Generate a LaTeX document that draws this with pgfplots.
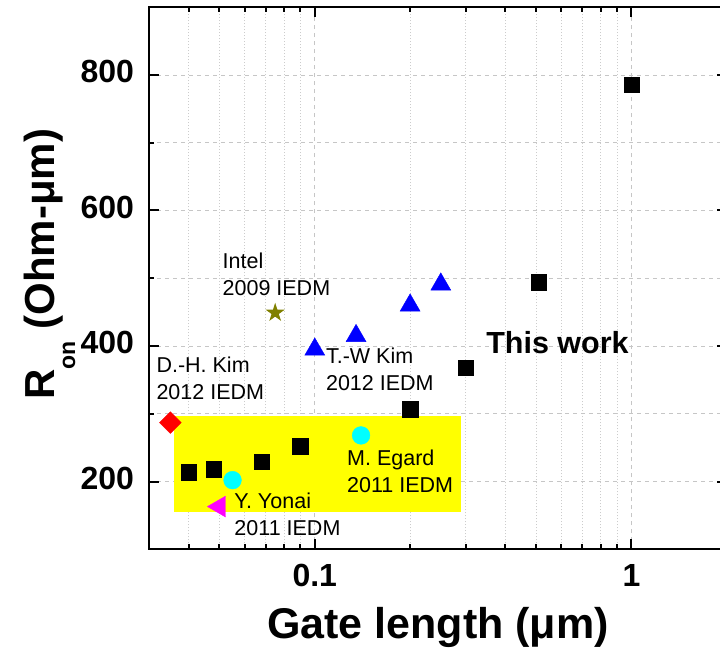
\documentclass[border=0pt]{standalone}
\usepackage{fontspec}
\setmainfont{Liberation Sans}
\usepackage{pgfplots}
\pgfplotsset{compat=1.18}

\definecolor{olivestar}{RGB}{128,128,0}
\definecolor{cyanpt}{RGB}{0,255,255}
\definecolor{magentapt}{RGB}{255,0,255}
\definecolor{yellowbox}{RGB}{255,255,0}
\definecolor{bluept}{RGB}{0,0,255}
\definecolor{redpt}{RGB}{255,0,0}

% filled five-pointed star
\pgfdeclareplotmark{fstar}{%
  \pgfpathmoveto{\pgfqpoint{0pt}{\pgfplotmarksize}}%
  \pgfpathlineto{\pgfqpoint{-0.2245\pgfplotmarksize}{0.3090\pgfplotmarksize}}%
  \pgfpathlineto{\pgfqpoint{-0.9511\pgfplotmarksize}{0.3090\pgfplotmarksize}}%
  \pgfpathlineto{\pgfqpoint{-0.3633\pgfplotmarksize}{-0.1180\pgfplotmarksize}}%
  \pgfpathlineto{\pgfqpoint{-0.5878\pgfplotmarksize}{-0.8090\pgfplotmarksize}}%
  \pgfpathlineto{\pgfqpoint{0pt}{-0.3820\pgfplotmarksize}}%
  \pgfpathlineto{\pgfqpoint{0.5878\pgfplotmarksize}{-0.8090\pgfplotmarksize}}%
  \pgfpathlineto{\pgfqpoint{0.3633\pgfplotmarksize}{-0.1180\pgfplotmarksize}}%
  \pgfpathlineto{\pgfqpoint{0.9511\pgfplotmarksize}{0.3090\pgfplotmarksize}}%
  \pgfpathlineto{\pgfqpoint{0.2245\pgfplotmarksize}{0.3090\pgfplotmarksize}}%
  \pgfpathclose
  \pgfusepathqfill
}

\begin{document}
\begin{tikzpicture}
\useasboundingbox (-149.2bp,-102.75bp) rectangle (570.8bp,549.25bp);
\begin{axis}[
  at={(0,0)}, anchor=south west,
  scale only axis, width=577.6bp, height=542bp,
  xmode=log, xmin=0.03, xmax=2, ymin=100, ymax=900,
  xtick={0.1,1}, xticklabels={0.1,1},
  minor xtick={0.04,0.05,0.06,0.07,0.08,0.09,0.2,0.3,0.4,0.5,0.6,0.7,0.8,0.9},
  ytick={200,400,600,800}, minor ytick={300,500,700},
  tick align=inside,
  major tick length=10bp, minor tick length=5bp,
  every tick/.style={black, line width=2bp},
  axis line style={line width=2.2bp},
  grid=both,
  major grid style={gray!45, line width=0.8bp, dash pattern=on 4bp off 4bp},
  minor x grid style={gray!40, line width=0.8bp, dash pattern=on 1bp off 2bp},
  minor y grid style={gray!45, line width=0.8bp, dash pattern=on 4bp off 4bp},
  /pgf/number format/assume math mode=true,
  ticklabel style={font=\fontsize{32bp}{36bp}\selectfont\bfseries},
  xticklabel style={anchor=north, inner sep=0pt, yshift=-15bp},
  yticklabel style={anchor=east, inner sep=0pt, xshift=-15bp, yshift=3.5bp},
  xlabel={Gate length (μm)},
  xlabel style={font=\fontsize{43bp}{48bp}\selectfont\bfseries,
    at={(axis description cs:0.5,0)}, anchor=north, inner sep=0pt, yshift=-58bp},
  ylabel={R\raisebox{-0.48em}{\fontsize{23bp}{23bp}\selectfont on} (Ohm-μm)},
  ylabel style={font=\fontsize{42bp}{48bp}\selectfont\bfseries,
    at={(axis description cs:-0.172,0.526)}, anchor=center, inner sep=0pt},
  clip=false,
]
% highlighted region
\addplot[draw=none, fill=yellowbox] coordinates {(0.036,155) (0.29,155) (0.29,297) (0.036,297)} -- cycle;

% This work
\addplot[only marks, mark=square*, mark size=7.75bp, black] coordinates {
  (0.040,214) (0.048,218) (0.068,229) (0.090,252) (0.20,307) (0.30,368) (0.51,494) (1.0,786)};

% T.-W Kim, 2012 IEDM
\addplot[only marks, mark=triangle*, mark size=11.5bp, bluept, mark options={draw=none, fill=bluept}] coordinates {
  (0.10,395) (0.135,415) (0.20,460) (0.25,491)};

% Intel, 2009 IEDM
\addplot[only marks, mark=fstar, mark size=10bp, olivestar, mark options={fill=olivestar}] coordinates {(0.075,449)};

% D.-H. Kim, 2012 IEDM
\addplot[only marks, mark=square*, mark size=7.7bp, redpt, mark options={rotate=45, draw=none, fill=redpt}] coordinates {(0.035,287)};

% M. Egard / Y. Yonai, 2011 IEDM
\addplot[only marks, mark=*, mark size=8.9bp, cyanpt, mark options={draw=none, fill=cyanpt}] coordinates {
  (0.055,202) (0.140,268)};

% Y. Yonai, 2011 IEDM
\addplot[only marks, mark=triangle*, mark size=12bp, magentapt, mark options={rotate=90, draw=none, fill=magentapt}] coordinates {(0.050,163)};

\begin{scope}[every node/.style={anchor=base west, inner sep=0pt, font=\fontsize{21.5bp}{26bp}\selectfont}]
\node at (axis cs:0.0511,514) {Intel};
\node at (axis cs:0.0511,475) {2009 IEDM};
\node at (axis cs:0.0316,361) {D.-H. Kim};
\node at (axis cs:0.0316,321) {2012 IEDM};
\node at (axis cs:0.1084,374) {T.-W Kim};
\node at (axis cs:0.1084,334) {2012 IEDM};
\node at (axis cs:0.1264,223) {M. Egard};
\node at (axis cs:0.1264,184) {2011 IEDM};
\node at (axis cs:0.0557,160) {Y. Yonai};
\node at (axis cs:0.0557,120) {2011 IEDM};
\end{scope}
\node[anchor=base west, inner sep=0pt, font=\fontsize{30.5bp}{34bp}\selectfont\bfseries] at (axis cs:0.3476,389) {This work};
\end{axis}
\end{tikzpicture}
\end{document}
